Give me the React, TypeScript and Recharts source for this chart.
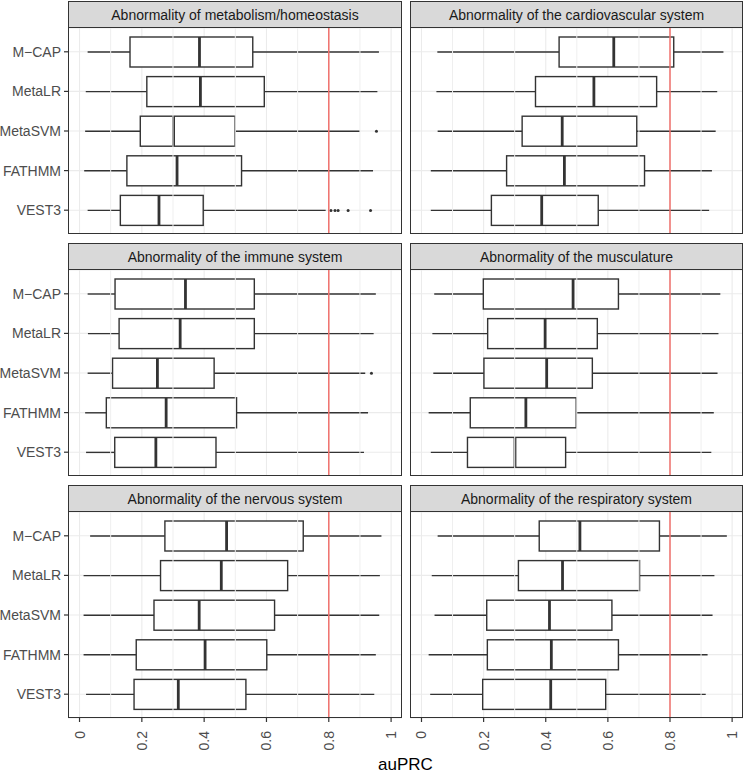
import {
  ComposedChart,
  Bar,
  XAxis,
  YAxis,
  CartesianGrid,
  ReferenceLine,
} from "recharts";

const methods = ["M−CAP", "MetaLR", "MetaSVM", "FATHMM", "VEST3"];
const xTicks = [0, 0.2, 0.4, 0.6, 0.8, 1];
const minorTicks = [0.1, 0.3, 0.5, 0.7, 0.9];
const cutoff = 0.8;

// each row: [lower whisker, q1, median, q3, upper whisker], same order as methods
const metabolism = [
  [0.026, 0.162, 0.385, 0.556, 0.961],
  [0.02, 0.216, 0.388, 0.593, 0.956],
  [0.018, 0.195, 0.302, 0.499, 0.9],
  [0.015, 0.152, 0.313, 0.52, 0.942],
  [0.026, 0.131, 0.255, 0.397, 0.79],
];
const metabolismOut = [[], [], [0.953], [], [0.807, 0.82, 0.83, 0.862, 0.934]];

const cardio = [
  [0.051, 0.443, 0.619, 0.812, 0.972],
  [0.048, 0.367, 0.555, 0.757, 0.952],
  [0.052, 0.324, 0.453, 0.693, 0.947],
  [0.03, 0.274, 0.46, 0.718, 0.935],
  [0.03, 0.225, 0.387, 0.569, 0.926],
];

const immune = [
  [0.026, 0.114, 0.34, 0.561, 0.951],
  [0.027, 0.127, 0.323, 0.561, 0.944],
  [0.026, 0.106, 0.25, 0.432, 0.917],
  [0.018, 0.086, 0.278, 0.504, 0.926],
  [0.021, 0.113, 0.245, 0.438, 0.913],
];
const immuneOut = [[], [], [0.937], [], []];

const muscle = [
  [0.041, 0.199, 0.488, 0.634, 0.962],
  [0.035, 0.213, 0.398, 0.566, 0.956],
  [0.038, 0.201, 0.403, 0.55, 0.953],
  [0.023, 0.157, 0.336, 0.498, 0.941],
  [0.03, 0.148, 0.301, 0.464, 0.933],
];

const nervous = [
  [0.034, 0.274, 0.472, 0.718, 0.969],
  [0.013, 0.26, 0.455, 0.668, 0.964],
  [0.013, 0.239, 0.384, 0.626, 0.962],
  [0.013, 0.182, 0.403, 0.601, 0.951],
  [0.021, 0.175, 0.317, 0.534, 0.946],
];

const respiratory = [
  [0.052, 0.379, 0.51, 0.766, 0.983],
  [0.033, 0.312, 0.454, 0.702, 0.943],
  [0.042, 0.21, 0.412, 0.613, 0.937],
  [0.023, 0.212, 0.418, 0.634, 0.921],
  [0.028, 0.197, 0.416, 0.593, 0.915],
];

const noOut = [[], [], [], [], []];

const panels = [
  { title: "Abnormality of metabolism/homeostasis", stats: metabolism, out: metabolismOut },
  { title: "Abnormality of the cardiovascular system", stats: cardio, out: noOut },
  { title: "Abnormality of the immune system", stats: immune, out: immuneOut },
  { title: "Abnormality of the musculature", stats: muscle, out: noOut },
  { title: "Abnormality of the nervous system", stats: nervous, out: noOut },
  { title: "Abnormality of the respiratory system", stats: respiratory, out: noOut },
];

const colLeft = [68, 410];
const colWidth = [334, 333];
const rowTop = [1, 243, 485];
const stripH = 27;
const panelH = 206;
const yAxisW = 68;
const xAxisH = 55;
const ink = "#333";

const fmt = (v: number) => (v === 0 ? "0" : v === 1 ? "1" : String(v));

const BoxShape = (props: any) => {
  const { x, y, width, height, payload } = props;
  const [lo, hi] = payload.range;
  const px = (v: number) => x + ((v - lo) / (hi - lo)) * width;
  const cy = y + height / 2;
  return (
    <g>
      <line x1={px(lo)} x2={px(payload.q1)} y1={cy} y2={cy} stroke={ink} strokeWidth={1.4} />
      <line x1={px(payload.q3)} x2={px(hi)} y1={cy} y2={cy} stroke={ink} strokeWidth={1.4} />
      <rect
        x={px(payload.q1)}
        y={y}
        width={px(payload.q3) - px(payload.q1)}
        height={height}
        fill="#fff"
        stroke={ink}
        strokeWidth={1.4}
      />
      <line x1={px(payload.med)} x2={px(payload.med)} y1={y} y2={y + height} stroke={ink} strokeWidth={2.8} />
      {payload.outliers.map((v: number, i: number) => (
        <circle key={i} cx={px(v)} cy={cy} r={1.5} fill={ink} />
      ))}
    </g>
  );
};

const XTick = ({ x, y, payload }: any) => (
  <text
    x={x}
    y={y}
    transform={`rotate(-90 ${x} ${y})`}
    textAnchor="end"
    dominantBaseline="central"
    fontSize={14}
    fill="#4d4d4d"
  >
    {fmt(payload.value)}
  </text>
);

const Panel = ({ idx }: { idx: number }) => {
  const p = panels[idx];
  const col = idx % 2;
  const row = Math.floor(idx / 2);
  const showY = col === 0;
  const showX = row === 2;
  const data = methods.map((m, i) => ({
    method: m,
    range: [p.stats[i][0], p.stats[i][4]],
    q1: p.stats[i][1],
    med: p.stats[i][2],
    q3: p.stats[i][3],
    outliers: p.out[i],
  }));
  const plotTop = rowTop[row] + stripH;
  const chartLeft = showY ? colLeft[col] - yAxisW : colLeft[col];
  const chartW = colWidth[col] + (showY ? yAxisW : 0);
  const chartH = panelH + (showX ? xAxisH : 0);
  return (
    <>
      <div
        style={{
          position: "absolute",
          left: colLeft[col],
          top: rowTop[row],
          width: colWidth[col],
          height: stripH,
          boxSizing: "border-box",
          border: "1.4px solid #333",
          background: "#d9d9d9",
          color: "#1a1a1a",
          fontSize: 14,
          display: "flex",
          alignItems: "center",
          justifyContent: "center",
        }}
      >
        {p.title}
      </div>
      <div style={{ position: "absolute", left: chartLeft, top: plotTop }}>
        <ComposedChart
          width={chartW}
          height={chartH}
          data={data}
          layout="vertical"
          margin={{ top: 0, right: 0, bottom: 0, left: 0 }}
        >
          <CartesianGrid stroke="#ebebeb" strokeWidth={1.1} verticalValues={xTicks} />
          {minorTicks.map((t) => (
            <ReferenceLine key={t} x={t} stroke="#efefef" strokeWidth={1} />
          ))}
          <XAxis
            type="number"
            domain={[-0.037, 1.035]}
            allowDataOverflow
            ticks={xTicks}
            hide={!showX}
            height={xAxisH}
            axisLine={false}
            tickSize={4}
            tickMargin={9}
            tickLine={{ stroke: ink, strokeWidth: 1.2 }}
            tick={<XTick />}
            interval={0}
          />
          <YAxis
            type="category"
            dataKey="method"
            hide={!showY}
            width={yAxisW}
            padding={{ top: 4, bottom: 4 }}
            axisLine={false}
            tickSize={4}
            tickMargin={3}
            tickLine={{ stroke: ink, strokeWidth: 1.2 }}
            tick={{ fill: "#4d4d4d", fontSize: 14 }}
            interval={0}
          />
          <Bar dataKey="range" barSize={30} shape={<BoxShape />} isAnimationActive={false} />
          <ReferenceLine x={cutoff} stroke="#f0716d" strokeWidth={1.5} />
        </ComposedChart>
      </div>
      <div
        style={{
          position: "absolute",
          left: colLeft[col],
          top: plotTop - 1,
          width: colWidth[col],
          height: panelH + 1,
          boxSizing: "border-box",
          border: "1.4px solid #333",
          pointerEvents: "none",
        }}
      />
    </>
  );
};

export default function App() {
  return (
    <div
      style={{
        position: "absolute",
        left: 0,
        top: 0,
        width: 744,
        height: 773,
        background: "#fff",
        fontFamily: "'Liberation Sans', Arial, sans-serif",
        overflow: "hidden",
      }}
    >
      {panels.map((_, i) => (
        <Panel key={i} idx={i} />
      ))}
      <div
        style={{
          position: "absolute",
          left: 68,
          width: 675,
          top: 757,
          lineHeight: "16px",
          fontSize: 17,
          textAlign: "center",
          color: "#000",
        }}
      >
        auPRC
      </div>
    </div>
  );
}
